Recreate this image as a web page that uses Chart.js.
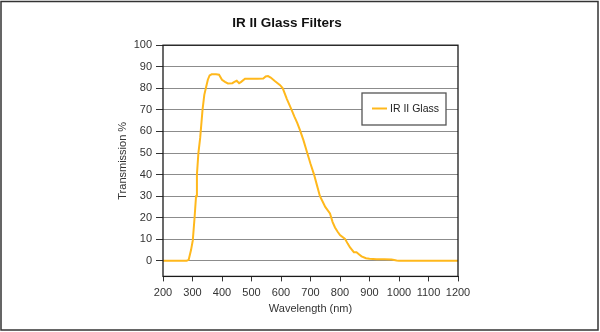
<!DOCTYPE html>
<html>
<head>
<meta charset="utf-8">
<script src="https://cdn.jsdelivr.net/npm/chart.js@4"></script>
<style>
  body { margin: 0; background: #fff; }
  #wrap { position: relative; width: 600px; height: 332px; }
</style>
</head>
<body>
<div id="wrap"><canvas id="myChart" width="600" height="332"></canvas></div>
<script>
// wavelength (nm) and transmission (%)
var wavelengths = [200, 280, 287, 295, 301, 307, 312, 315, 320, 326, 334, 340, 346, 352, 358, 365,
    380, 390, 400, 410, 420, 435, 442, 450, 458, 465, 478, 500, 520, 540, 548, 556, 565, 580,
    597, 606, 620, 636, 645, 655, 664, 676, 689, 700, 712, 722, 732, 741, 750, 766, 775, 783,
    792, 800, 817, 826, 834, 847, 856, 865, 873, 888, 900, 924, 950, 975, 992, 1000, 1100, 1200];
var transmission = [0, 0, 0.5, 5, 9.5, 20, 30, 40, 50, 57, 70, 77, 80.5, 84, 86, 86.5,
    86.5, 86.3, 84, 83, 82.3, 82.4, 83, 83.5, 82.4, 83, 84.5, 84.5, 84.5, 84.6, 85.5, 85.7, 85, 83.3,
    81.5, 80, 75, 70, 67, 64, 60.7, 56, 50, 45, 40, 35, 30, 27.5, 25, 22, 18, 15.5,
    13.5, 12, 10.2, 8, 6.2, 4, 4, 3, 2.1, 1.2, 1, 0.8, 0.7, 0.6, 0.2, 0.1, 0, 0];
var yTicks = [0, 10, 20, 30, 40, 50, 60, 70, 80, 90, 100];
var seriesName = "IR II Glass";

var lineColor = "#FFB81C";
var tickFont = { family: "'Liberation Sans', Arial, sans-serif", size: 11 };

// frame around plot + outer border + boxed legend
var framePlugin = {
    id: 'frame',
    afterDraw: function (chart) {
        var c = chart.ctx, a = chart.chartArea;
        c.save();
        c.strokeStyle = '#1a1a1a';
        c.lineWidth = 1.3;
        c.strokeRect(a.left, a.top, a.right - a.left, a.bottom - a.top);
        // outer border
        c.strokeStyle = '#333';
        c.lineWidth = 1.5;
        c.strokeRect(1, 1.5, 597, 328.5);
        // legend
        var lx = 362, ly = 93, lw = 84, lh = 32;
        c.fillStyle = '#fff';
        c.fillRect(lx, ly, lw, lh);
        c.strokeStyle = '#555';
        c.lineWidth = 1.3;
        c.strokeRect(lx, ly, lw, lh);
        c.strokeStyle = lineColor;
        c.lineWidth = 2;
        c.beginPath();
        c.moveTo(lx + 10, ly + 15.5);
        c.lineTo(lx + 25, ly + 15.5);
        c.stroke();
        c.fillStyle = '#222';
        c.font = '10.5px ' + tickFont.family;
        c.textBaseline = 'middle';
        c.fillText(chart.data.datasets[0].label, lx + 28, ly + 16);
        c.restore();
    }
};

var ctx = document.getElementById("myChart").getContext('2d');
new Chart(ctx, {
    type: 'line',
    data: {
        labels: wavelengths,
        datasets: [{
            label: seriesName,
            data: wavelengths.map(function (w, i) { return { x: w, y: transmission[i] }; }),
            borderColor: lineColor,
            borderWidth: 2,
            pointRadius: 0,
            tension: 0,
            fill: false
        }]
    },
    options: {
        responsive: false,
        animation: false,
        devicePixelRatio: 1,
        layout: { padding: { left: 116, right: 142, top: 0, bottom: 16 } },
        plugins: {
            legend: { display: false },
            tooltip: { enabled: false },
            title: {
                display: true,
                text: 'IR II Glass Filters',
                color: '#111',
                font: { family: "'Liberation Sans', Arial, sans-serif", size: 13.5, weight: 'bold' },
                padding: { top: 15, bottom: 14 }
            }
        },
        scales: {
            x: {
                type: 'linear',
                min: 200,
                max: 1200,
                ticks: {
                    stepSize: 100, autoSkip: false, color: '#333', font: tickFont, padding: 5, maxRotation: 0,
                    callback: function (v) { return String(v); }
                },
                grid: { drawOnChartArea: false, drawTicks: true, tickLength: 5, tickColor: '#333' },
                border: { display: false },
                title: { display: true, text: 'Wavelength (nm)', color: '#333', font: tickFont, padding: 0 },
                afterFit: function (s) { s.height = 39.6; }
            },
            y: {
                min: -7.2,
                max: 100,
                afterBuildTicks: function (s) {
                    s.ticks = yTicks.map(function (v) { return { value: v }; });
                },
                ticks: { color: '#333', font: tickFont, padding: 4 },
                grid: { color: '#8c8c8c', lineWidth: 1, tickLength: 7, tickColor: '#333' },
                border: { display: false },
                title: { display: true, text: 'Transmission %', color: '#333', font: tickFont, padding: 0 },
                afterFit: function (s) { s.width = 47; }
            }
        }
    },
    plugins: [framePlugin]
});
</script>
</body>
</html>
